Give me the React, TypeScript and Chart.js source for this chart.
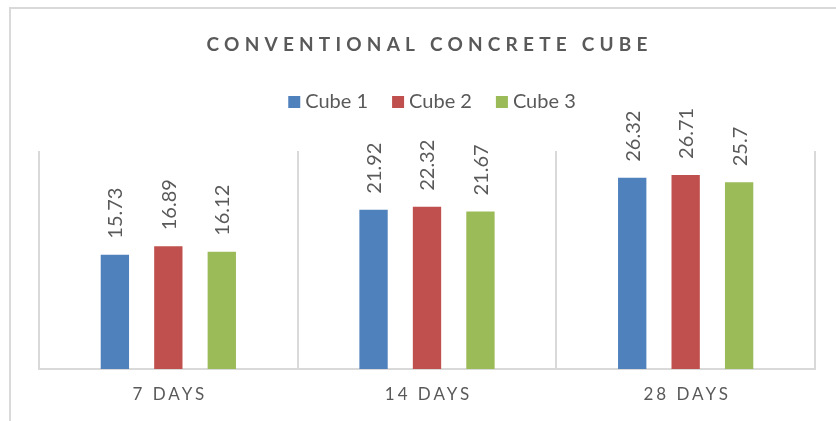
import React, { useEffect, useRef } from "react";
import { Chart, registerables } from "chart.js";

Chart.register(...registerables);

const chartTitle = "CONVENTIONAL CONCRETE CUBE";
const categories = ["7 DAYS", "14 DAYS", "28 DAYS"];
const seriesNames = ["Cube 1", "Cube 2", "Cube 3"];
const cube1 = [15.73, 21.92, 26.32];
const cube2 = [16.89, 22.32, 26.71];
const cube3 = [16.12, 21.67, 25.7];
const seriesColors = ["#4F81BD", "#C0504D", "#9BBB59"];
const yMin = 0;
const yMax = 30;

const FONT = "Lato, 'Open Sans', sans-serif";
const TEXT = "#595959";

const overlayPlugin = {
  id: "overlay",
  beforeDraw(chart: any) {
    const ctx = chart.ctx;
    ctx.save();
    ctx.fillStyle = "#ffffff";
    ctx.fillRect(0, 0, chart.width, chart.height);
    ctx.strokeStyle = "#d9d9d9";
    ctx.lineWidth = 2;
    ctx.strokeRect(10, 8, chart.width + 50, chart.height + 50);
    ctx.restore();
  },
  afterDatasetsDraw(chart: any) {
    const ctx = chart.ctx;
    ctx.save();
    ctx.fillStyle = TEXT;
    ctx.font = `20px ${FONT}`;
    ctx.textAlign = "left";
    ctx.textBaseline = "middle";
    chart.data.datasets.forEach((ds: any, di: number) => {
      const meta = chart.getDatasetMeta(di);
      meta.data.forEach((bar: any, i: number) => {
        ctx.save();
        ctx.translate(bar.x + 1, bar.y - 16);
        ctx.rotate(-Math.PI / 2);
        ctx.fillText(String(ds.data[i]), 0, 0);
        ctx.restore();
      });
    });
    ctx.restore();
  },
  afterDraw(chart: any) {
    const ctx = chart.ctx;
    const drawSpaced = (text: string, cx: number, cy: number, spacing: number) => {
      ctx.letterSpacing = `${spacing}px`;
      const w = ctx.measureText(text).width - spacing;
      ctx.textAlign = "left";
      ctx.textBaseline = "middle";
      ctx.fillText(text, cx - w / 2, cy);
      ctx.letterSpacing = "0px";
    };
    ctx.save();
    ctx.fillStyle = TEXT;
    // title
    ctx.font = `bold 19px ${FONT}`;
    drawSpaced(chartTitle, 427, 45, 5.2);
    // category labels
    ctx.font = `17px ${FONT}`;
    const xs = chart.scales.x;
    categories.forEach((c, i) => {
      drawSpaced(c, xs.getPixelForValue(i), 395, 3);
    });
    // legend
    ctx.font = `20px ${FONT}`;
    const box = 12;
    const gapBoxText = 5;
    const itemGap = 24;
    const widths = chart.data.datasets.map(
      (d: any) => box + gapBoxText + ctx.measureText(d.label).width
    );
    const total = widths.reduce((a: number, b: number) => a + b, 0) + itemGap * (widths.length - 1);
    let x = 432 - total / 2;
    const ly = 102;
    chart.data.datasets.forEach((d: any, i: number) => {
      ctx.fillStyle = d.backgroundColor;
      ctx.fillRect(x, ly - box / 2, box, box);
      ctx.fillStyle = TEXT;
      ctx.textAlign = "left";
      ctx.textBaseline = "middle";
      ctx.fillText(d.label, x + box + gapBoxText, ly);
      x += widths[i] + itemGap;
    });
    ctx.restore();
  },
};

export default function App() {
  const ref = useRef<HTMLCanvasElement>(null);
  useEffect(() => {
    if (!ref.current) return;
    const seriesData = [cube1, cube2, cube3];
    const chart = new Chart(ref.current, {
      type: "bar",
      data: {
        labels: categories,
        datasets: seriesNames.map((name, i) => ({
          label: name,
          data: seriesData[i],
          backgroundColor: seriesColors[i],
          borderWidth: 0,
          categoryPercentage: 0.62,
          barPercentage: 0.53,
        })),
      },
      options: {
        animation: false,
        responsive: false,
        devicePixelRatio: 1,
        layout: { padding: { top: 151, left: 39, right: 21, bottom: 52 } },
        plugins: {
          legend: { display: false },
          title: { display: false },
          tooltip: { enabled: false },
        },
        scales: {
          x: {
            grid: { color: "#d9d9d9", lineWidth: 2, drawTicks: false, offset: true },
            border: { color: "#d9d9d9", width: 2 },
            ticks: { display: false },
          },
          y: { display: false, min: yMin, max: yMax },
        },
      },
      plugins: [overlayPlugin],
    });
    return () => chart.destroy();
  }, []);
  return (
    <div style={{ position: "fixed", left: 0, top: 0, width: 836, height: 421, background: "#fff" }}>
      <canvas ref={ref} width={836} height={421} style={{ width: 836, height: 421, display: "block" }} />
    </div>
  );
}
